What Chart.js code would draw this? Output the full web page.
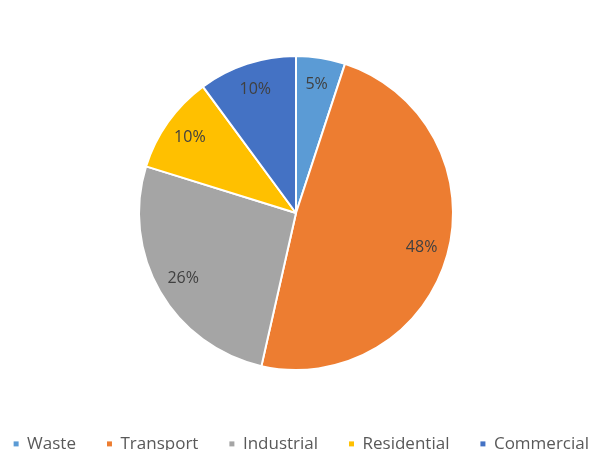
<!DOCTYPE html>
<html>
<head>
<meta charset="utf-8">
<script src="https://cdn.jsdelivr.net/npm/chart.js@4/dist/chart.umd.min.js"></script>
<style>
  html, body { margin: 0; padding: 0; background: #ffffff; overflow: hidden; }
  #wrap { width: 592px; height: 450px; position: relative; }
</style>
</head>
<body>
<div id="wrap"><canvas id="c" width="592" height="450"></canvas></div>
<script>
const categories = ["Waste", "Transport", "Industrial", "Residential", "Commercial"];
const shares = [5, 48, 26, 10, 10];
const sliceColors = ["#5B9BD5", "#ED7D31", "#A5A5A5", "#FFC000", "#4472C4"];

const sliceLabels = {
  id: "sliceLabels",
  afterDatasetsDraw(chart) {
    const ctx = chart.ctx;
    const meta = chart.getDatasetMeta(0);
    ctx.save();
    ctx.font = "16px 'Open Sans', 'Liberation Sans', sans-serif";
    ctx.fillStyle = "#404040";
    ctx.textAlign = "center";
    ctx.textBaseline = "middle";
    meta.data.forEach((arc, i) => {
      const p = arc.getProps(["x", "y", "startAngle", "endAngle", "outerRadius"], true);
      const mid = (p.startAngle + p.endAngle) / 2;
      const r = p.outerRadius * 0.83;
      ctx.fillText(shares[i] + "%", p.x + Math.cos(mid) * r, p.y + Math.sin(mid) * r);
    });
    ctx.restore();
  }
};

new Chart(document.getElementById("c"), {
  type: "pie",
  data: {
    labels: categories,
    datasets: [{
      data: shares,
      backgroundColor: sliceColors,
      borderColor: "#ffffff",
      borderWidth: 2
    }]
  },
  options: {
    responsive: false,
    animation: false,
    layout: { padding: { top: 55, bottom: 0, left: -28, right: -28 } },
    plugins: {
      tooltip: { enabled: false },
      legend: {
        position: "bottom",
        align: "end",
        maxHeight: 79,
        title: { display: true, text: "", font: { size: 12 }, padding: { top: 19, bottom: 0 } },
        labels: {
          boxWidth: 5,
          boxHeight: 5,
          padding: 31,
          color: "#595959",
          font: { size: 17, family: "'Open Sans', 'Liberation Sans', sans-serif" },
          generateLabels(chart) {
            return categories.map((t, i) => ({
              text: t,
              fillStyle: sliceColors[i],
              strokeStyle: sliceColors[i],
              lineWidth: 0,
              fontColor: "#595959",
              hidden: false,
              index: i
            }));
          }
        }
      }
    }
  },
  plugins: [sliceLabels]
});
</script>
</body>
</html>
